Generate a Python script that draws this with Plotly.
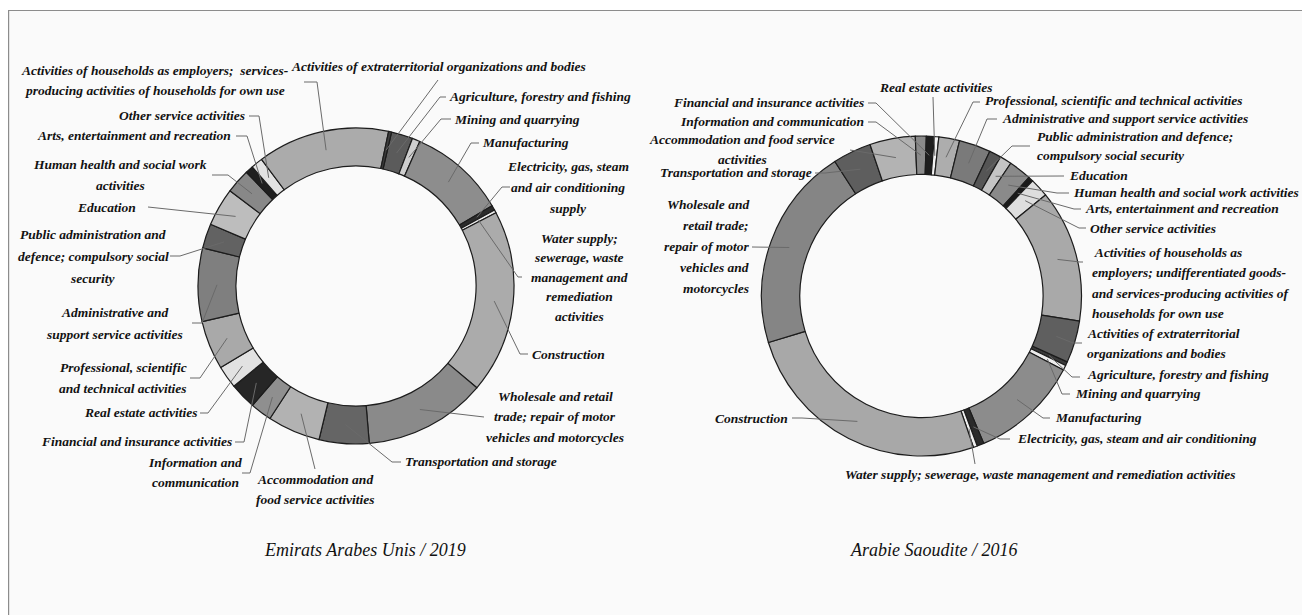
import math
import plotly.graph_objects as go

W, H = 1310, 615
OFF = 8  # page body margin: screen = figure + OFF

sectors = ["Agriculture, forestry and fishing", "Mining and quarrying", "Manufacturing",
           "Electricity, gas, steam and air conditioning supply",
           "Water supply; sewerage, waste management and remediation activities",
           "Construction", "Wholesale and retail trade; repair of motor vehicles and motorcycles",
           "Transportation and storage", "Accommodation and food service activities",
           "Information and communication", "Financial and insurance activities",
           "Real estate activities", "Professional, scientific and technical activities",
           "Administrative and support service activities",
           "Public administration and defence; compulsory social security", "Education",
           "Human health and social work activities", "Arts, entertainment and recreation",
           "Other service activities", "Activities of households as employers",
           "Activities of extraterritorial organizations and bodies"]

uae_values = [2.2, 0.8, 9.9, 0.5, 0.3, 18.8, 12.5, 5.1, 5.4, 2.2, 2.7, 2.3, 5.0, 7.5,
              2.5, 3.9, 2.5, 0.8, 1.2, 13.5, 0.3]
ksa_values = [0.4, 0.5, 11.0, 0.7, 0.4, 25.6, 20.6, 3.9, 4.6, 1.1, 0.8, 0.45, 2.1, 3.2,
              1.2, 1.2, 2.3, 0.5, 1.9, 13.4, 4.25]

uae_colors = ["#5b5b5b", "#cfcfcf", "#8d8d8d", "#2b2b2b", "#ececec", "#ababab", "#8a8a8a",
              "#656565", "#b2b2b2", "#8f8f8f", "#262626", "#e2e2e2", "#a9a9a9", "#7f7f7f",
              "#626262", "#bdbdbd", "#888888", "#1f1f1f", "#e3e3e3", "#ababab", "#3d3d3d"]
ksa_colors = ["#3a3a3a", "#ededed", "#8c8c8c", "#2a2a2a", "#f0f0f0", "#a8a8a8", "#858585",
              "#5e5e5e", "#b3b3b3", "#8a8a8a", "#1e1e1e", "#f2f2f2", "#adadad", "#7a7a7a",
              "#555555", "#c4c4c4", "#8a8a8a", "#1a1a1a", "#dedede", "#a9a9a9", "#5f5f5f"]

uae_title = "Emirats Arabes Unis / 2019"
ksa_title = "Arabie Saoudite / 2016"

uae_labels = [
    ["Agriculture, forestry and fishing"], ["Mining and quarrying"], ["Manufacturing"],
    ["Electricity, gas, steam", "and air conditioning", "supply"],
    ["Water supply;", "sewerage, waste", "management and", "remediation", "activities"],
    ["Construction"],
    ["Wholesale and retail", "trade; repair of motor", "vehicles and motorcycles"],
    ["Transportation and storage"], ["Accommodation and", "food service activities"],
    ["Information and", "communication"], ["Financial and insurance activities"],
    ["Real estate activities"], ["Professional, scientific", "and technical activities"],
    ["Administrative and", "support service activities"],
    ["Public administration and", "defence; compulsory social", "security"],
    ["Education"], ["Human health and social work", "activities"],
    ["Arts, entertainment and recreation"], ["Other service activities"],
    ["Activities of households as employers;  services-",
     "producing activities of households for own use"],
    ["Activities of extraterritorial organizations and bodies"]]
ksa_labels = [
    ["Agriculture, forestry and fishing"], ["Mining and quarrying"], ["Manufacturing"],
    ["Electricity, gas, steam and air conditioning"],
    ["Water supply; sewerage, waste management and remediation activities"],
    ["Construction"],
    ["Wholesale and", "retail trade;", "repair of motor", "vehicles and", "motorcycles"],
    ["Transportation and storage"], ["Accommodation and food service", "activities"],
    ["Information and communication"], ["Financial and insurance activities"],
    ["Real estate activities"], ["Professional, scientific and technical activities"],
    ["Administrative and support service activities"],
    ["Public administration and defence;", "compulsory social security"],
    ["Education"], ["Human health and social work activities"],
    ["Arts, entertainment and recreation"], ["Other service activities"],
    [" Activities of households as", "employers; undifferentiated goods-",
     "and services-producing activities of", "households for own use"],
    ["Activities of extraterritorial", "organizations and bodies"]]

# ---- layout (screen pixel positions) ----
UAE_C, UAE_R, UAE_ROT = (356, 286), 158, 13
KSA_C, KSA_R, KSA_ROT = (921.5, 296), 160, 114.3
HOLE = 0.76

# text x, first-line y, anchor, line spacing, leader start (x,y), elbow dx
uae_pos = [
    (447, 96, "left", 21, (446, 97), -6), (452, 119, "left", 21, (451, 119), -10),
    (480, 142, "left", 21, (479, 143), -8), (568, 166, "center", 21, (510, 187), -8),
    (579, 238, "center", 19.5, (522, 277), -4), (530, 354, "left", 21, (528, 354), -8),
    (555, 396, "center", 20.5, (484, 417), 0), (403, 461, "left", 21, (401, 462), -9),
    (315, 479, "center", 20.5, (315, 469), 0), (195, 462, "center", 20.5, (242, 473), 8),
    (234, 441, "right", 21, (235, 442), 9), (199, 412, "right", 21, (200, 413), 8),
    (123, 367, "center", 21, (190, 378), 10), (114, 312, "center", 22, (192, 323), 10),
    (93, 234, "center", 22, (170, 256), 10), (106, 207, "center", 21, (148, 207), 0),
    (120, 164, "center", 21, (212, 175), 16), (233, 135, "right", 21, (236, 136), 11),
    (247, 115, "right", 21, (249, 116), 10), (155, 70, "center", 20, (304, 82), 13),
    (438, 66, "center", 21, (438, 80), 0)]
ksa_pos = [
    (1085, 374, "left", 21, (1080, 377), -8), (1073, 393, "left", 21, (1070, 394), -8),
    (1053, 417, "left", 21, (1050, 418), -7), (1015, 438, "left", 21, (1010, 439), -10),
    (1040, 474, "center", 21, (975, 464), 0), (790, 418, "right", 21, (792, 418), 10),
    (751, 204, "right", 21, (752, 247), 0), (814, 172, "right", 21, (815, 173), 10),
    (742, 139, "center", 20, (850, 150), 0), (866, 121, "right", 21, (868, 122), 8),
    (866, 102, "right", 21, (868, 103), 8), (935, 87, "center", 21, (933, 97), 0),
    (983, 100, "left", 21, (980, 102), -7), (1000, 118, "left", 21, (997, 119), -10),
    (1035, 136, "left", 19, (1030, 146), -18), (1067, 175, "left", 21, (1064, 176), 0),
    (1071, 192, "left", 21, (1069, 193), -12), (1083, 208, "left", 21, (1081, 209), -7),
    (1088, 228, "left", 21, (1086, 228), -7), (1090, 252, "left", 20.5, (1083, 262), -3),
    (1085, 333, "left", 20, (1082, 343), -9)]

CAPTION_Y = 550


def domain(c, r):
    cx, cy = c[0] - OFF, c[1] - OFF
    return dict(x=[(cx - r) / W, (cx + r) / W],
                y=[1 - (cy + r) / H, 1 - (cy - r) / H])


def slice_point(values, rot, i, c, r):
    tot = sum(values)
    start = rot + 360.0 * sum(values[:i]) / tot
    mid = math.radians(start + 180.0 * values[i] / tot)
    return c[0] + r * math.sin(mid), c[1] - r * math.cos(mid)


fig = go.Figure()
for vals, cols, c, r, rot, name in [(uae_values, uae_colors, UAE_C, UAE_R, UAE_ROT, uae_title),
                                     (ksa_values, ksa_colors, KSA_C, KSA_R, KSA_ROT, ksa_title)]:
    fig.add_trace(go.Pie(labels=sectors, values=vals, sort=False, direction="clockwise",
                         rotation=rot, hole=HOLE, domain=domain(c, r), textinfo="none",
                         marker=dict(colors=cols, line=dict(color="#1c1c1c", width=1.2)),
                         showlegend=False, name=name))

# hidden axes in screen-pixel coordinates
fig.add_trace(go.Scatter(x=[OFF, W], y=[OFF, H], mode="markers", marker=dict(opacity=0),
                         hoverinfo="skip", showlegend=False))

shapes = [dict(type="rect", xref="x", yref="y", x0=8.6, y0=10.5, x1=W + 40, y1=H + 40,
               line=dict(color="#8c8c8c", width=1.2), fillcolor="#fafafa", layer="below")]
annotations = []
FONT = "Liberation Serif"

for vals, labels, pos, c, r, rot in [(uae_values, uae_labels, uae_pos, UAE_C, UAE_R, UAE_ROT),
                                      (ksa_values, ksa_labels, ksa_pos, KSA_C, KSA_R, KSA_ROT)]:
    rin = r * HOLE
    for i, (lines, p) in enumerate(zip(labels, pos)):
        tx, ty, anc, sp, (sx, sy), edx = p
        for k, ln in enumerate(lines):
            annotations.append(dict(x=tx, y=ty + k * sp, xref="x", yref="y", showarrow=False,
                                    text="<b><i>%s</i></b>" % ln, xanchor=anc, yanchor="middle",
                                    font=dict(family=FONT, size=13.5, color="#121212")))
        ex, ey = slice_point(vals, rot, i, c, (r + rin) / 2)
        path = "M %.1f %.1f L %.1f %.1f L %.1f %.1f" % (sx, sy, sx + edx, sy, ex, ey)
        shapes.append(dict(type="path", xref="x", yref="y", path=path,
                           line=dict(color="#6a6a6a", width=1), layer="above"))

annotations.append(dict(x=365, y=CAPTION_Y, xref="x", yref="y", showarrow=False,
                        text="<i>%s</i>" % uae_title, xanchor="center", yanchor="middle",
                        font=dict(family=FONT, size=18, color="#111111")))
annotations.append(dict(x=933, y=CAPTION_Y, xref="x", yref="y", showarrow=False,
                        text="<i>%s</i>" % ksa_title, xanchor="center", yanchor="middle",
                        font=dict(family=FONT, size=18, color="#111111")))

fig.update_layout(width=W, height=H, margin=dict(l=0, r=0, t=0, b=0),
                  paper_bgcolor="white", plot_bgcolor="rgba(0,0,0,0)",
                  xaxis=dict(range=[OFF, W + OFF], visible=False, fixedrange=True, domain=[0, 1]),
                  yaxis=dict(range=[H + OFF, OFF], visible=False, fixedrange=True, domain=[0, 1]),
                  shapes=shapes, annotations=annotations, showlegend=False)

fig.write_html("out.html")
